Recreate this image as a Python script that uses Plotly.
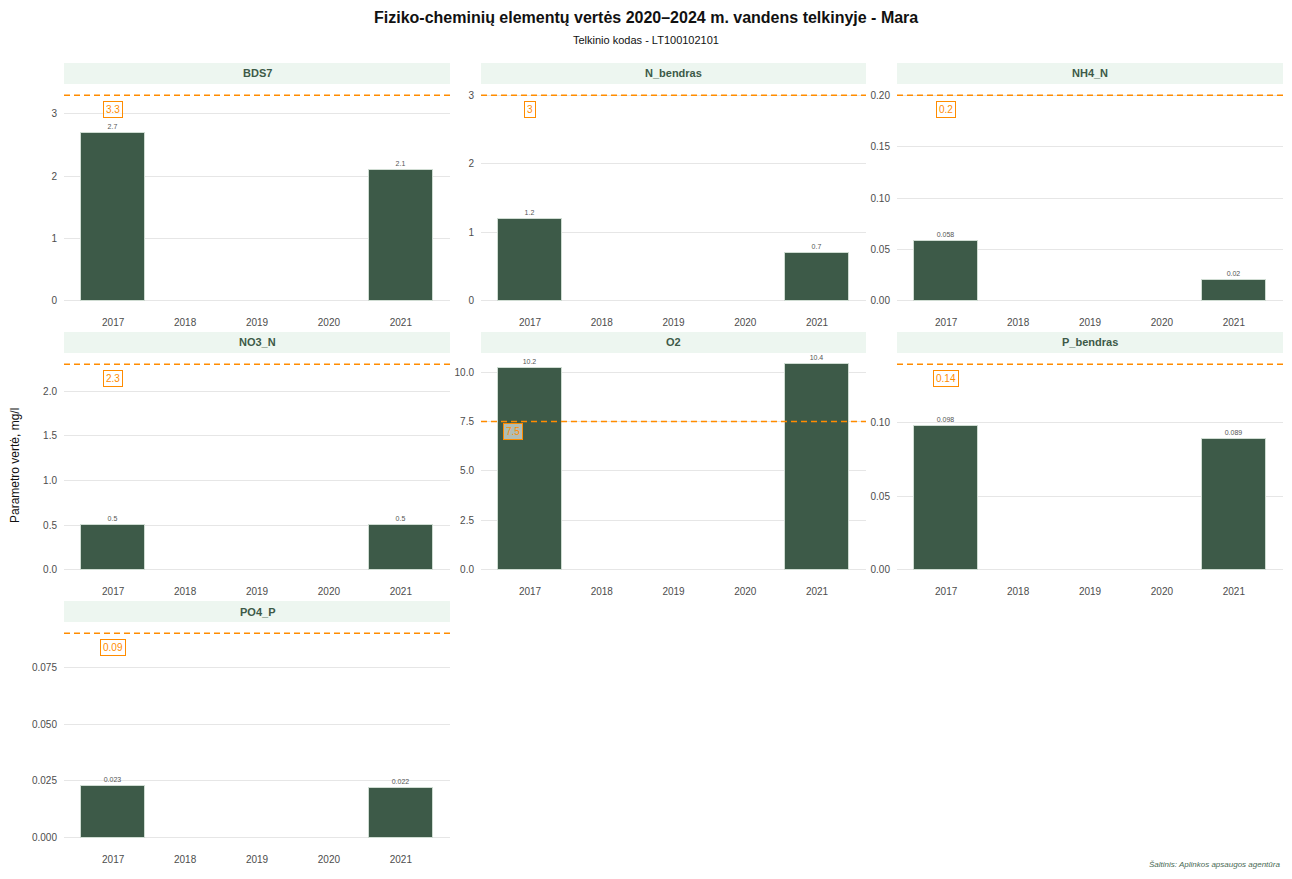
import plotly.graph_objects as go

# page is rendered with an 8px body margin: figure is shrunk and coordinates shifted
OFF = 8
W, H = 1292 - 2 * OFF, 879 - 2 * OFF

parameters = ["BDS7", "N_bendras", "NH4_N", "NO3_N", "O2", "P_bendras", "PO4_P"]
years = ["2017", "2018", "2019", "2020", "2021"]
bar_years = ["2017", "2021"]
val_BDS7 = [2.7, 2.1]
val_N_bendras = [1.2, 0.7]
val_NH4_N = [0.058, 0.02]
val_NO3_N = [0.5, 0.5]
val_O2 = [10.2, 10.4]
val_P_bendras = [0.098, 0.089]
val_PO4_P = [0.023, 0.022]
thresholds = [3.3, 3, 0.2, 2.3, 7.5, 0.14, 0.09]
threshold_labels = ["3.3", "3", "0.2", "2.3", "7.5", "0.14", "0.09"]
bar_labels = [["2.7", "2.1"], ["1.2", "0.7"], ["0.058", "0.02"], ["0.5", "0.5"],
              ["10.2", "10.4"], ["0.098", "0.089"], ["0.023", "0.022"]]
values = [val_BDS7, val_N_bendras, val_NH4_N, val_NO3_N, val_O2, val_P_bendras, val_PO4_P]
ytick_vals = [[0, 1, 2, 3], [0, 1, 2, 3], [0, 0.05, 0.10, 0.15, 0.20],
              [0, 0.5, 1.0, 1.5, 2.0], [0, 2.5, 5.0, 7.5, 10.0],
              [0, 0.05, 0.10], [0, 0.025, 0.050, 0.075]]
ytick_text = [["0", "1", "2", "3"], ["0", "1", "2", "3"],
              ["0.00", "0.05", "0.10", "0.15", "0.20"],
              ["0.0", "0.5", "1.0", "1.5", "2.0"],
              ["0.0", "2.5", "5.0", "7.5", "10.0"],
              ["0.00", "0.05", "0.10"],
              ["0.000", "0.025", "0.050", "0.075"]]

# label placement offsets (pixels), style only
label_xshift = [0, 0, 0, 0, -17, 0, 0]
label_yshift = [-14, -14, -14, -14, -10, -14, -14]

BAR = "#3d5a48"
ORANGE = "#ff8c00"
STRIP = "#edf6f0"
FONT = "Liberation Sans, Arial, sans-serif"

col_px = [(64, 450), (481, 866), (897, 1283)]
row_px = [(85, 311), (354, 580), (623, 848)]
strip_px = [(63, 84), (332, 353), (601, 622)]


def px_x(v):
    return (v - OFF) / W


def px_y(v):
    return 1 - (v - OFF) / H


fig = go.Figure()
shapes = []
annotations = []

for i, p in enumerate(parameters):
    r, c = divmod(i, 3)
    ax = "" if i == 0 else str(i + 1)
    xa, ya = "x" + ax, "y" + ax
    x0, x1 = col_px[c]
    y0, y1 = row_px[r]
    xpos = [years.index(y) for y in bar_years]
    fig.add_trace(go.Bar(
        x=xpos, y=values[i], xaxis=xa, yaxis=ya, width=0.88,
        marker=dict(color=BAR, line=dict(color="#cfdcd2", width=1)),
        text=bar_labels[i], textposition="outside", cliponaxis=False,
        textfont=dict(size=7, color="#555555", family=FONT),
        constraintext="none", showlegend=False, hoverinfo="skip"))
    top = max(max(values[i]), thresholds[i])
    rng = [-0.05 * top, top * 1.05]
    fig.layout["xaxis" + ax] = dict(
        domain=[px_x(x0), px_x(x1)], anchor=ya, range=[-0.683, 4.683],
        tickvals=list(range(5)), ticktext=years, showgrid=False, zeroline=False,
        showline=False, ticks="", ticklabelstandoff=4,
        tickfont=dict(size=10, color="#4d4d4d", family=FONT))
    fig.layout["yaxis" + ax] = dict(
        domain=[px_y(y1), px_y(y0)], anchor=xa, range=rng,
        tickvals=ytick_vals[i], ticktext=ytick_text[i], showgrid=True,
        gridcolor="#e6e6e6", gridwidth=1, zeroline=False, showline=False, ticks="",
        ticklabelstandoff=6, tickfont=dict(size=10, color="#4d4d4d", family=FONT))
    # threshold line
    shapes.append(dict(type="line", xref=xa + " domain", yref=ya, x0=0, x1=1,
                       y0=thresholds[i], y1=thresholds[i],
                       line=dict(color=ORANGE, width=1.4, dash="6px,4px")))
    annotations.append(dict(xref=xa, yref=ya, x=0, y=thresholds[i],
                            xshift=label_xshift[i], yshift=label_yshift[i],
                            text=threshold_labels[i], showarrow=False,
                            font=dict(size=10, color=ORANGE, family=FONT),
                            bgcolor="rgba(255,255,255,0.6)", bordercolor=ORANGE,
                            borderwidth=1, borderpad=2))
    # strip
    s0, s1 = strip_px[r]
    shapes.append(dict(type="rect", xref="paper", yref="paper", x0=px_x(x0), x1=px_x(x1),
                       y0=px_y(s1), y1=px_y(s0), fillcolor=STRIP, line=dict(width=0),
                       layer="below"))
    annotations.append(dict(xref="paper", yref="paper", x=px_x((x0 + x1) / 2),
                            y=px_y((s0 + s1) / 2), text="<b>" + p + "</b>",
                            showarrow=False, xanchor="center", yanchor="middle",
                            font=dict(size=11, color="#3d5a48", family=FONT)))

annotations += [
    dict(xref="paper", yref="paper", x=px_x(646), y=px_y(17.5),
         text="<b>Fiziko-cheminių elementų vertės 2020–2024 m. vandens telkinyje - Mara</b>",
         showarrow=False, xanchor="center", yanchor="middle",
         font=dict(size=16, color="#111111", family=FONT)),
    dict(xref="paper", yref="paper", x=px_x(646), y=px_y(40),
         text="Telkinio kodas - LT100102101", showarrow=False, xanchor="center",
         yanchor="middle", font=dict(size=11, color="#111111", family=FONT)),
    dict(xref="paper", yref="paper", x=px_x(15), y=px_y(466),
         text="Parametro vertė, mg/l", showarrow=False, textangle=-90,
         xanchor="center", yanchor="middle",
         font=dict(size=12, color="#111111", family=FONT)),
    dict(xref="paper", yref="paper", x=px_x(1282), y=0,
         text="<i>Šaltinis: Aplinkos apsaugos agentūra</i>", showarrow=False,
         xanchor="right", yanchor="bottom",
         font=dict(size=8, color="#4a6a55", family=FONT)),
]

fig.update_layout(width=W, height=H, margin=dict(l=0, r=0, t=0, b=0),
                  paper_bgcolor="white", plot_bgcolor="white",
                  shapes=shapes, annotations=annotations, bargap=0,
                  font=dict(family=FONT))

fig.write_html("out.html")
